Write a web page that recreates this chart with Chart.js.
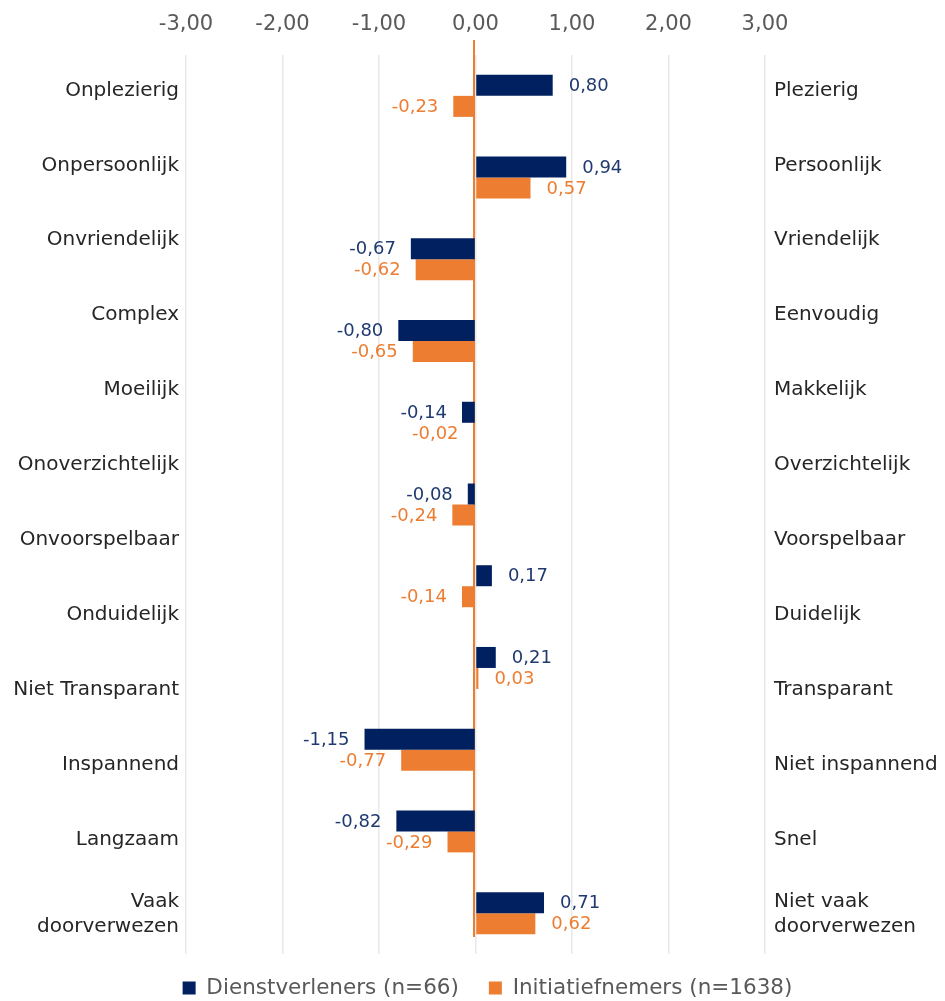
<!DOCTYPE html>
<html>
<head>
<meta charset="utf-8">
<script src="https://cdn.jsdelivr.net/npm/chart.js@4/dist/chart.umd.min.js"></script>
<style>
html,body{margin:0;padding:0;background:#fff;}
#wrap{width:945px;height:1001px;position:relative;}
</style>
</head>
<body>
<div id="wrap"><canvas id="c"></canvas></div>
<script>
const leftLabels = ["Onplezierig","Onpersoonlijk","Onvriendelijk","Complex","Moeilijk","Onoverzichtelijk","Onvoorspelbaar","Onduidelijk","Niet Transparant","Inspannend","Langzaam",["Vaak","doorverwezen"]];
const rightLabels = ["Plezierig","Persoonlijk","Vriendelijk","Eenvoudig","Makkelijk","Overzichtelijk","Voorspelbaar","Duidelijk","Transparant","Niet inspannend","Snel",["Niet vaak","doorverwezen"]];
const barGroups = ["1","2","3","4","5","6","7","8","9","10","11"];
const dienstverleners = [0.80, 0.94, -0.67, -0.80, -0.14, -0.08, 0.17, 0.21, -1.15, -0.82, 0.71];
const initiatiefnemers = [-0.23, 0.57, -0.62, -0.65, -0.02, -0.24, -0.14, 0.03, -0.77, -0.29, 0.62];
const seriesNames = ["Dienstverleners (n=66)", "Initiatiefnemers (n=1638)"];
const xTicks = [-3, -2, -1, 0, 1, 2, 3];

const NAVY = '#002060', ORANGE = '#ED7D31';
const FONT = "'DejaVu Sans', sans-serif";
const fmt = v => v.toFixed(2).replace('.', ',');

const zeroLine = {
  id: 'zeroLine',
  beforeDatasetsDraw(chart) {
    const {ctx, chartArea, scales} = chart;
    const x = scales.x.getPixelForValue(0) - 1.5;
    ctx.save();
    ctx.strokeStyle = ORANGE;
    ctx.lineWidth = 2;
    ctx.beginPath();
    ctx.moveTo(x, chartArea.top - 15);
    ctx.lineTo(x, chartArea.bottom - 17);
    ctx.stroke();
    ctx.restore();
  }
};

const valueLabels = {
  id: 'valueLabels',
  afterDatasetsDraw(chart) {
    const ctx = chart.ctx;
    ctx.save();
    ctx.font = "18px " + FONT;
    ctx.textBaseline = 'middle';
    chart.data.datasets.forEach((ds, di) => {
      const meta = chart.getDatasetMeta(di);
      ctx.fillStyle = di === 0 ? '#1F3A70' : ORANGE;
      meta.data.forEach((el, i) => {
        const v = ds.data[i];
        if (v >= 0) {
          ctx.textAlign = 'left';
          ctx.fillText(fmt(v), el.x + 16, el.y + 1);
        } else {
          ctx.textAlign = 'right';
          ctx.fillText(fmt(v), el.x - 15, el.y + 1);
        }
      });
    });
    ctx.restore();
  }
};

const LEGEND_H = 47, LEGEND_TEXT_Y = 988, LEGEND_SHIFT_X = 15;
const legendTweak = {
  id: 'legendTweak',
  afterInit(chart) {
    const lg = chart.legend;
    if (!lg) return;
    const fit = lg.fit.bind(lg);
    lg.fit = function() { fit(); this.height = LEGEND_H; };
  },
  afterLayout(chart) {
    const lg = chart.legend;
    if (!lg) return;
    const pad = lg.options.labels.padding;
    const fs = lg.options.labels.font.size;
    lg.top = LEGEND_TEXT_Y - pad - fs / 2;
    lg.bottom = chart.height;
    lg.height = lg.bottom - lg.top;
    lg.left += LEGEND_SHIFT_X; lg.right += LEGEND_SHIFT_X;
  }
};

new Chart(document.getElementById('c'), {
  type: 'bar',
  data: {
    labels: barGroups,
    datasets: [
      {label: seriesNames[0], data: dienstverleners, backgroundColor: NAVY, borderWidth: 0, yAxisID: 'y', categoryPercentage: 0.514, barPercentage: 1},
      {label: seriesNames[1], data: initiatiefnemers, backgroundColor: ORANGE, borderWidth: 0, yAxisID: 'y', categoryPercentage: 0.514, barPercentage: 1}
    ]
  },
  options: {
    indexAxis: 'y',
    responsive: true,
    maintainAspectRatio: false,
    animation: false,
    layout: {padding: 0},
    scales: {
      x: {
        position: 'top',
        min: -3, max: 3,
        afterBuildTicks: s => { s.ticks = xTicks.map(v => ({value: v})); },
        afterFit: s => { s.height = 55; },
        ticks: {
          callback: v => fmt(v),
          color: '#595959',
          font: {family: FONT, size: 21},
          padding: 18
        },
        grid: {color: '#E8E8E8', lineWidth: 1.5, drawTicks: false},
        border: {display: false}
      },
      y: {
        type: 'category',
        display: false,
        offset: true
      },
      yL: {
        type: 'category',
        position: 'left',
        labels: leftLabels,
        offset: true,
        afterFit: s => { s.width = 186; },
        ticks: {color: '#262626', font: {family: FONT, size: 20, lineHeight: 1.25}, padding: 7, labelOffset: -2, autoSkip: false},
        grid: {display: false, drawTicks: false},
        border: {display: false}
      },
      yR: {
        type: 'category',
        position: 'right',
        labels: rightLabels,
        offset: true,
        afterFit: s => { s.width = 180; },
        ticks: {color: '#262626', font: {family: FONT, size: 20, lineHeight: 1.25}, padding: 9, labelOffset: -2, autoSkip: false},
        grid: {display: false, drawTicks: false},
        border: {display: false}
      }
    },
    plugins: {
      legend: {
        position: 'bottom',
        labels: {
          boxWidth: 13, boxHeight: 13,
          color: '#595959',
          font: {family: FONT, size: 21.5},
          padding: 30
        }
      },
      tooltip: {enabled: false}
    }
  },
  plugins: [zeroLine, valueLabels, legendTweak]
});
</script>
</body>
</html>
